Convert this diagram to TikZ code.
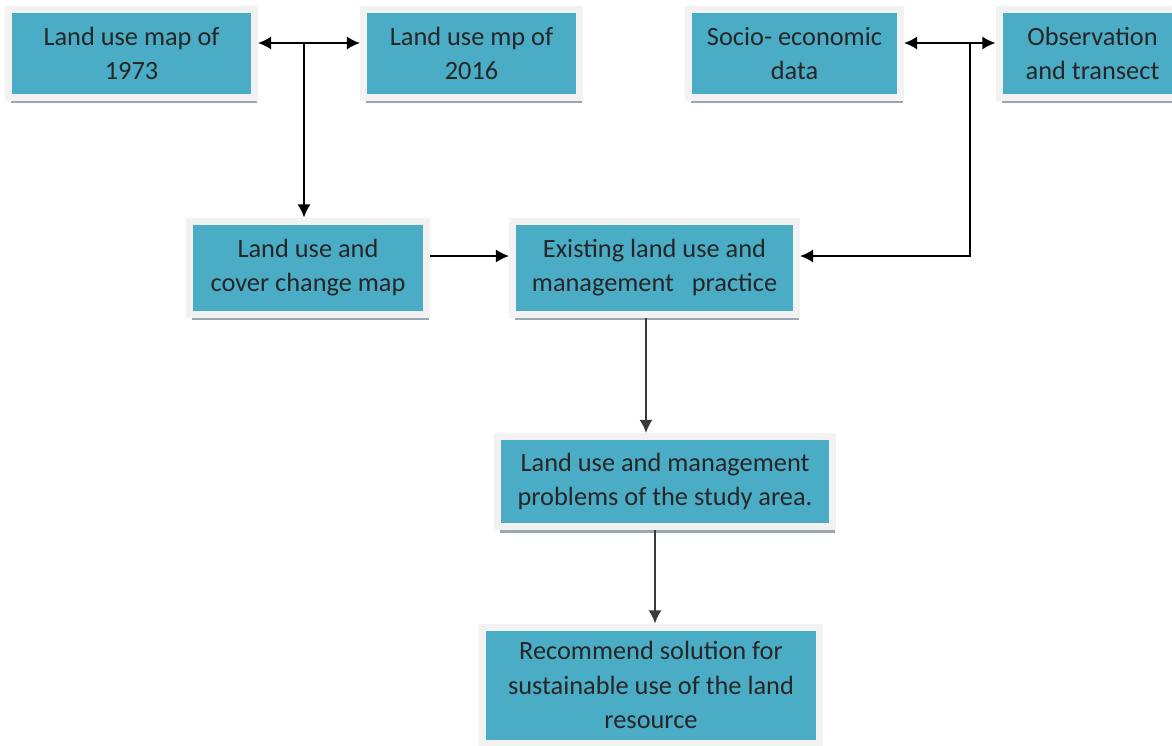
\documentclass[tikz,border=0pt]{standalone}
\usepackage{fontspec}
\setmainfont{Carlito}
\usepackage[rgb]{xcolor}
\usetikzlibrary{arrows.meta,shadows}

\definecolor{boxteal}{HTML}{4BACC6}
\definecolor{boxrim}{HTML}{F2F2F2}
\definecolor{boxshade}{HTML}{98A8B3}
\definecolor{linegrey}{HTML}{3A3A3A}

\tikzset{
  landbox/.style={draw=boxrim, fill=boxteal, line width=0.14cm, align=center,
    inner sep=0pt, font=\fontsize{15}{19.4}\selectfont, text=black!85,
    drop shadow={shadow xshift=0.05cm, shadow yshift=-0.12cm, fill=boxshade, opacity=1}},
  arr/.style={-{Latex[length=7.5pt,width=7.5pt]}, line width=1.1pt},
  darr/.style={{Latex[length=7.5pt,width=7.5pt]}-{Latex[length=7.5pt,width=7.5pt]}, line width=1.1pt}
}

\begin{document}
\begin{tikzpicture}[x=0.02cm, y=-0.02cm]

\useasboundingbox (0,0) rectangle (1172,745);

% top row
\node[landbox, minimum width=4.92cm, minimum height=1.76cm] (map73) at (131.5,53.5) {Land use map of\\1973};
\node[landbox, minimum width=4.32cm, minimum height=1.76cm] (map16) at (471.5,53.5) {Land use mp of\\2016};
\node[landbox, minimum width=4.24cm, minimum height=1.76cm] (socio) at (794.5,53.5) {Socio- economic\\data};
\node[landbox, minimum width=3.74cm, minimum height=1.76cm] (obs) at (1092.5,53.5) {Observation\\and transect};

% second row
\node[landbox, minimum width=4.76cm, minimum height=1.86cm] (change) at (308,267.5) {Land use and\\cover change map};
\node[landbox, minimum width=5.68cm, minimum height=1.86cm] (exist) at (654.5,267.5) {Existing land use and\\management \ \ practice};

% problems and solution
\node[landbox, minimum width=6.70cm, minimum height=1.80cm] (prob) at (665,481.5) {Land use and management\\problems of the study area.};
\node[landbox, minimum width=6.74cm, minimum height=2.32cm] (solve) at (651,685) {Recommend solution for\\sustainable use of the land\\resource};

% junctions
\coordinate (jleft) at (304,43);
\coordinate (jright) at (970,43);
\coordinate (bend) at (970,256);
\coordinate (xexist) at (646,0);
\coordinate (xprob) at (655,0);

% maps
\draw[arr] (jleft) -- (jleft -| map73.east);
\draw[arr] (jleft) -- (jleft -| map16.west);
\draw[arr] (jleft) -- (jleft |- change.north);

% field data
\draw[arr] (jright) -- (jright -| socio.east);
\draw[arr] (jright) -- (jright -| obs.west);
\draw[arr] (jright) -- (bend) -- (bend -| exist.east);

\draw[arr] (bend -| change.east) -- (bend -| exist.west);

% down the middle
\draw[arr, linegrey] (xexist |- exist.south) -- (xexist |- prob.north);
\draw[arr, linegrey] (xprob |- prob.south) -- (xprob |- solve.north);

\end{tikzpicture}
\end{document}
